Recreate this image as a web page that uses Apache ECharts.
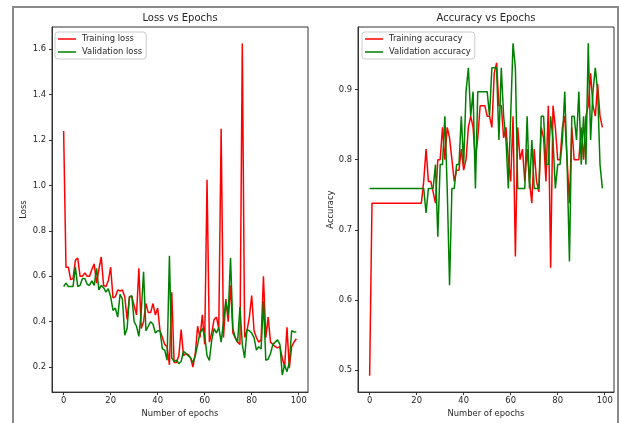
<!DOCTYPE html>
<html>
<head>
<meta charset="utf-8">
<script src="https://cdn.jsdelivr.net/npm/echarts@6/dist/echarts.min.js"></script>
<style>
html,body{margin:0;padding:0;background:#fff;}
#c{width:619px;height:423px;}
</style>
</head>
<body>
<div id="c"></div>
<script>
const xTicks = [0, 20, 40, 60, 80, 100];
const lossTicks = [0.2, 0.4, 0.6, 0.8, 1.0, 1.2, 1.4, 1.6];
const accTicks = [0.5, 0.6, 0.7, 0.8, 0.9];

const trainLoss = [1.24,0.64,0.64,0.585,0.59,0.67,0.68,0.6,0.6,0.615,
  0.6,0.6,0.63,0.655,0.57,0.63,0.685,0.56,0.555,0.58,
  0.64,0.505,0.51,0.54,0.535,0.54,0.51,0.41,0.51,0.51,
  0.47,0.43,0.635,0.37,0.4,0.48,0.44,0.44,0.48,0.43,
  0.46,0.36,0.33,0.3,0.29,0.21,0.53,0.22,0.22,0.25,
  0.365,0.25,0.26,0.255,0.24,0.2,0.26,0.38,0.33,0.43,
  0.3,1.025,0.31,0.35,0.41,0.42,0.37,1.25,0.33,0.5,
  0.4,0.56,0.35,0.33,0.31,0.3,1.625,0.33,0.36,0.42,
  0.515,0.36,0.33,0.31,0.32,0.6,0.33,0.42,0.31,0.3,
  0.29,0.285,0.29,0.24,0.2,0.375,0.195,0.29,0.31,0.325];

const valLoss = [0.555,0.57,0.555,0.555,0.555,0.64,0.555,0.56,0.59,0.59,
  0.565,0.56,0.58,0.56,0.635,0.54,0.56,0.55,0.53,0.545,
  0.51,0.45,0.46,0.42,0.52,0.5,0.34,0.37,0.51,0.515,
  0.4,0.38,0.335,0.44,0.62,0.36,0.38,0.4,0.39,0.35,
  0.36,0.36,0.28,0.275,0.23,0.69,0.24,0.225,0.23,0.215,
  0.225,0.27,0.26,0.25,0.24,0.22,0.25,0.3,0.35,0.37,
  0.34,0.25,0.23,0.32,0.37,0.35,0.375,0.31,0.4,0.49,
  0.43,0.68,0.37,0.33,0.31,0.465,0.3,0.24,0.365,0.36,
  0.35,0.33,0.275,0.29,0.28,0.49,0.23,0.235,0.26,0.3,
  0.31,0.32,0.3,0.165,0.21,0.18,0.22,0.36,0.355,0.355];

const trainAcc = [0.492,0.738,0.738,0.738,0.738,0.738,0.738,0.738,0.738,0.738,
  0.738,0.738,0.738,0.738,0.738,0.738,0.738,0.738,0.738,0.738,
  0.738,0.738,0.738,0.769,0.815,0.769,0.769,0.754,0.738,0.800,
  0.800,0.846,0.800,0.846,0.831,0.800,0.769,0.785,0.785,0.815,
  0.785,0.800,0.846,0.862,0.846,0.800,0.831,0.877,0.877,0.877,
  0.862,0.862,0.846,0.923,0.938,0.877,0.877,0.831,0.846,0.800,
  0.769,0.862,0.662,0.846,0.800,0.815,0.769,0.815,0.769,0.738,
  0.815,0.769,0.754,0.846,0.831,0.769,0.877,0.646,0.877,0.846,
  0.800,0.800,0.846,0.862,0.800,0.738,0.846,0.800,0.800,0.800,
  0.846,0.800,0.862,0.877,0.923,0.877,0.862,0.908,0.862,0.846];

const valAcc = [0.759,0.759,0.759,0.759,0.759,0.759,0.759,0.759,0.759,0.759,
  0.759,0.759,0.759,0.759,0.759,0.759,0.759,0.759,0.759,0.759,
  0.759,0.759,0.759,0.759,0.724,0.759,0.759,0.759,0.793,0.690,
  0.793,0.793,0.862,0.759,0.621,0.759,0.759,0.793,0.793,0.862,
  0.793,0.897,0.931,0.862,0.897,0.759,0.897,0.897,0.897,0.897,
  0.897,0.862,0.931,0.931,0.931,0.828,0.931,0.862,0.828,0.759,
  0.862,0.966,0.931,0.759,0.759,0.759,0.759,0.862,0.759,0.828,
  0.759,0.759,0.759,0.862,0.862,0.793,0.793,0.862,0.828,0.759,
  0.793,0.793,0.828,0.897,0.793,0.655,0.862,0.862,0.828,0.897,
  0.793,0.862,0.793,0.966,0.828,0.897,0.931,0.897,0.793,0.759];

const pairs = arr => arr.map((v, i) => [i, v]);
const FONT = 'DejaVu Sans';
const TXT = '#262626';
const FS = 8.4;

function xAx(idx) {
  return {
    gridIndex: idx, type: 'value', min: -4.95, max: 103.95,
    name: 'Number of epochs', nameLocation: 'middle', nameGap: 15,
    nameTextStyle: {fontFamily: FONT, fontSize: FS, color: TXT},
    axisLine: {show: true, onZero: false, lineStyle: {color: '#333', width: 1}},
    axisTick: {show: true, inside: false, length: 3, customValues: xTicks, lineStyle: {color: '#333', width: 1}},
    axisLabel: {customValues: xTicks, margin: 5, fontFamily: FONT, fontSize: FS, color: TXT},
    splitLine: {show: false}
  };
}
function yAx(idx, min, max, ticks, name, gap) {
  return {
    gridIndex: idx, type: 'value', min: min, max: max,
    name: name, nameLocation: 'middle', nameGap: gap,
    nameTextStyle: {fontFamily: FONT, fontSize: FS, color: TXT},
    axisLine: {show: true, onZero: false, lineStyle: {color: '#333', width: 1}},
    axisTick: {show: true, inside: false, length: 3, customValues: ticks, lineStyle: {color: '#333', width: 1}},
    axisLabel: {customValues: ticks, margin: 6, fontFamily: FONT, fontSize: FS, color: TXT,
      formatter: v => v.toFixed(1)},
    splitLine: {show: false}
  };
}
function legend(left, names) {
  return {
    data: names.map(n => ({name: n})),
    orient: 'vertical', left: left, top: 32,
    icon: 'rect', itemWidth: 18, itemHeight: 1.5, itemGap: 3,
    padding: [2, 4, 2, 3],
    backgroundColor: 'rgba(255,255,255,0.8)', borderColor: '#cccccc', borderWidth: 1, borderRadius: 3,
    textStyle: {fontFamily: FONT, fontSize: FS, color: TXT, lineHeight: 10, padding: [0, 0, 0, 1]},
    selectedMode: false
  };
}
function line(name, data, color, xi) {
  return {
    name: name, type: 'line', data: pairs(data), xAxisIndex: xi, yAxisIndex: xi,
    showSymbol: false, symbol: 'none', animation: false,
    lineStyle: {color: color, width: 1.5}, itemStyle: {color: color}
  };
}

const chart = echarts.init(document.getElementById('c'), null, {renderer: 'canvas'});
chart.setOption({
  animation: false,
  backgroundColor: '#fff',
  grid: [
    {left: 52, top: 27, width: 256, height: 366, show: true, borderColor: '#333', borderWidth: 1, backgroundColor: 'transparent'},
    {left: 358, top: 27, width: 256, height: 366, show: true, borderColor: '#333', borderWidth: 1, backgroundColor: 'transparent'}
  ],
  xAxis: [xAx(0), xAx(1)],
  yAxis: [
    yAx(0, 0.0899, 1.698, lossTicks, 'Loss', 24),
    yAx(1, 0.4686, 0.9892, accTicks, 'Accuracy', 23)
  ],
  legend: [
    legend(55, ['Training loss', 'Validation loss']),
    legend(362, ['Training accuracy', 'Validation accuracy'])
  ],
  series: [
    line('Training loss', trainLoss, '#ff0000', 0),
    line('Validation loss', valLoss, '#008000', 0),
    line('Training accuracy', trainAcc, '#ff0000', 1),
    line('Validation accuracy', valAcc, '#008000', 1)
  ],
  graphic: [
    {type: 'rect', shape: {x: 13, y: 7, width: 605, height: 440}, style: {fill: 'none', stroke: '#8a8a8a', lineWidth: 2}, silent: true, z: -1},
    {type: 'text', x: 180, y: 18, style: {text: 'Loss vs Epochs', fontFamily: FONT, fontSize: 10, fill: TXT, textAlign: 'center', textVerticalAlign: 'middle'}},
    {type: 'text', x: 486, y: 18, style: {text: 'Accuracy vs Epochs', fontFamily: FONT, fontSize: 10, fill: TXT, textAlign: 'center', textVerticalAlign: 'middle'}}
  ]
});
</script>
</body>
</html>
